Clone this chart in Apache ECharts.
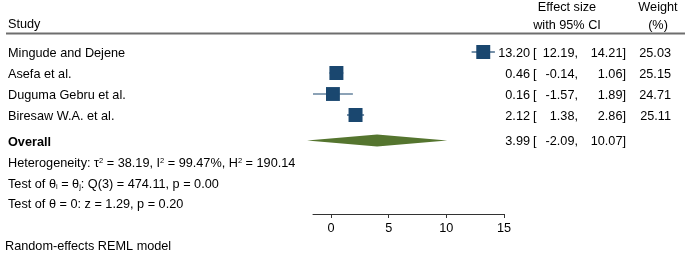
<!DOCTYPE html>
<html>
<head>
<meta charset="utf-8">
<script src="https://cdn.jsdelivr.net/npm/echarts@6/dist/echarts.min.js"></script>
<style>
html,body{margin:0;padding:0;background:#fff;}
#chart{width:685px;height:255px;}
</style>
</head>
<body>
<div id="chart"></div>
<script>
// ---------- data ----------
const studies = ["Mingude and Dejene", "Asefa et al.", "Duguma Gebru et al.", "Biresaw W.A. et al."];
const effect = [13.20, 0.46, 0.16, 2.12];
const lower = [12.19, -0.14, -1.57, 1.38];
const upper = [14.21, 1.06, 1.89, 2.86];
const weight = [25.03, 25.15, 24.71, 25.11];
const overallEffect = [3.99];
const overallLower = [-2.09];
const overallUpper = [10.07];
const xTicks = [0, 5, 10, 15];
const hetTau2 = 38.19, hetI2 = 99.47, hetH2 = 190.14;
const qStat = 474.11, qDf = 3, qP = 0.00;
const zStat = 1.29, zP = 0.20;

// ---------- layout ----------
const FONT = "'Liberation Sans', Arial, sans-serif";
const FS = 12.7;
const NAVY = '#1a476f';
const GREEN = '#55752f';
const studyRows = [1, 2, 3, 4];
const overallRow = 5.24;
const statRows = [6.3, 7.3, 8.28];
const yMax = 8.714;
const xMin = -1.57, xMax = 15;

const col = { es: 530, br: 533, lo: 578, hi: 626, w: 671 };

function f2(v) { return v.toFixed(2); }

const studyData = studies.map((s, i) => [effect[i], lower[i], upper[i], studyRows[i], weight[i]]);

function textEl(x, y, text, align, extra) {
  return {
    type: 'text', x: x, y: y,
    style: Object.assign({ text: text, fill: '#000', font: FS + 'px ' + FONT, align: align || 'left', verticalAlign: 'middle' }, extra || {})
  };
}

const option = {
  animation: false,
  backgroundColor: '#fff',
  grid: { left: 313, right: 181, top: 31, bottom: 41, containLabel: false },
  xAxis: {
    type: 'value', min: xMin, max: xMax, position: 'bottom',
    axisLine: { show: true, onZero: false, lineStyle: { color: '#333', width: 1 } },
    axisTick: { show: true, length: 4, customValues: xTicks, lineStyle: { color: '#333' } },
    axisLabel: { show: true, customValues: xTicks, color: '#000', fontSize: FS, fontFamily: FONT, margin: 8 },
    splitLine: { show: false }
  },
  yAxis: {
    type: 'value', min: 0, max: yMax, inverse: true, show: false
  },
  series: [
    {
      type: 'custom', clip: false,
      data: studyData,
      renderItem: function (params, api) {
        const es = api.value(0), lo = api.value(1), hi = api.value(2), row = api.value(3), w = api.value(4);
        const pEs = api.coord([es, row]);
        const pLo = api.coord([lo, row]);
        const pHi = api.coord([hi, row]);
        const side = 14 * Math.sqrt(w / 25.15);
        const i = params.dataIndex;
        const y = pEs[1];
        return {
          type: 'group',
          children: [
            { type: 'line', shape: { x1: pLo[0], y1: y, x2: pHi[0], y2: y }, style: { stroke: NAVY, lineWidth: 1.2 } },
            { type: 'rect', shape: { x: pEs[0] - side / 2, y: y - side / 2, width: side, height: side }, style: { fill: NAVY } },
            textEl(8, y + 1, studies[i], 'left'),
            textEl(col.es, y + 1, f2(effect[i]), 'right'),
            textEl(col.br, y + 1, '[', 'left'),
            textEl(col.lo, y + 1, f2(lower[i]) + ',', 'right'),
            textEl(col.hi, y + 1, f2(upper[i]) + ']', 'right'),
            textEl(col.w, y + 1, f2(weight[i]), 'right')
          ]
        };
      }
    },
    {
      type: 'custom', clip: false,
      data: [[overallEffect[0], overallLower[0], overallUpper[0], overallRow]],
      renderItem: function (params, api) {
        const es = api.value(0), lo = api.value(1), hi = api.value(2), row = api.value(3);
        const pEs = api.coord([es, row]);
        const pLo = api.coord([lo, row]);
        const pHi = api.coord([hi, row]);
        const y = pEs[1] - 0.5;
        const h = 6;
        return {
          type: 'group',
          children: [
            { type: 'polygon', shape: { points: [[pLo[0], y], [pEs[0], y - h], [pHi[0], y], [pEs[0], y + h]] }, style: { fill: GREEN } },
            textEl(8, y + 1.5, 'Overall', 'left', { font: 'bold ' + FS + 'px ' + FONT }),
            textEl(col.es, y + 1, f2(overallEffect[0]), 'right'),
            textEl(col.br, y + 1, '[', 'left'),
            textEl(col.lo, y + 1, f2(overallLower[0]) + ',', 'right'),
            textEl(col.hi, y + 1, f2(overallUpper[0]) + ']', 'right')
          ]
        };
      }
    },
    {
      type: 'custom', clip: false,
      data: statRows.map((r, i) => [0, r, i]),
      renderItem: function (params, api) {
        const p = api.coord([0, api.value(1)]);
        const i = api.value(2);
        const y = p[1];
        const rich = {
          n: { fontSize: FS, fontFamily: FONT, fill: '#000' },
          sup: { fontSize: 7.5, fontFamily: FONT, fill: '#000', verticalAlign: 'top' },
          sub: { fontSize: 7.5, fontFamily: FONT, fill: '#000', verticalAlign: 'bottom' }
        };
        let txt;
        if (i === 0) {
          txt = '{n|Heterogeneity: τ}{sup|2}{n| = ' + f2(hetTau2) + ', I}{sup|2}{n| = ' + f2(hetI2) + '%, H}{sup|2}{n| = ' + f2(hetH2) + '}';
        } else if (i === 1) {
          txt = '{n|Test of θ}{sub|i}{n| = θ}{sub|j}{n|: Q(' + qDf + ') = ' + f2(qStat) + ', p = ' + f2(qP) + '}';
        } else {
          txt = '{n|Test of θ = 0: z = ' + f2(zStat) + ', p = ' + f2(zP) + '}';
        }
        return {
          type: 'text', x: 8, y: y,
          style: { text: txt, rich: rich, align: 'left', verticalAlign: 'middle', font: FS + 'px ' + FONT, fill: '#000' }
        };
      }
    }
  ],
  graphic: [
    { type: 'text', x: 8, y: 24, style: { text: 'Study', fill: '#000', font: FS + 'px ' + FONT, align: 'left', verticalAlign: 'middle' } },
    { type: 'text', x: 567, y: 7, style: { text: 'Effect size', fill: '#000', font: FS + 'px ' + FONT, align: 'center', verticalAlign: 'middle' } },
    { type: 'text', x: 567, y: 25, style: { text: 'with 95% CI', fill: '#000', font: FS + 'px ' + FONT, align: 'center', verticalAlign: 'middle' } },
    { type: 'text', x: 658, y: 7, style: { text: 'Weight', fill: '#000', font: FS + 'px ' + FONT, align: 'center', verticalAlign: 'middle' } },
    { type: 'text', x: 658, y: 25, style: { text: '(%)', fill: '#000', font: FS + 'px ' + FONT, align: 'center', verticalAlign: 'middle' } },
    { type: 'line', shape: { x1: 6, y1: 33.5, x2: 685, y2: 33.5 }, style: { stroke: '#6e6e6e', lineWidth: 2 } },
    { type: 'text', x: 5, y: 246, style: { text: 'Random-effects REML model', fill: '#000', font: FS + 'px ' + FONT, align: 'left', verticalAlign: 'middle' } }
  ]
};

const chart = echarts.init(document.getElementById('chart'), null, { renderer: 'canvas' });
chart.setOption(option);
</script>
</body>
</html>
